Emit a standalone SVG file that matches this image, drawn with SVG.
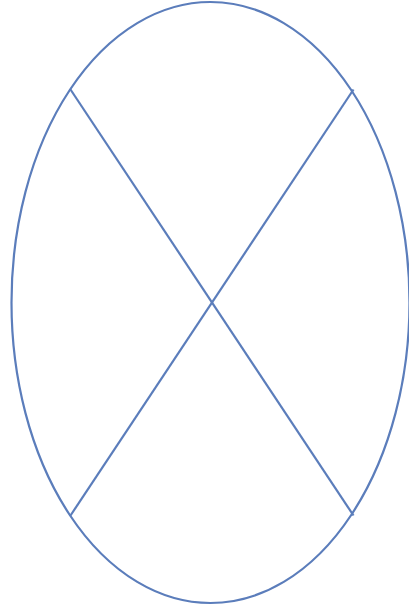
<svg xmlns="http://www.w3.org/2000/svg" width="409" height="612" viewBox="0 0 409 612">
<style>
.s{fill:none;stroke:#5b7dbb;stroke-width:2.2}
</style>
<rect width="409" height="612" fill="#ffffff"/>
<g id="ellipse">
<ellipse class="s" cx="210.5" cy="302.5" rx="199" ry="300.5"/>
</g>
<g id="connectors">
<line class="s" x1="70.5" y1="89.5" x2="353.5" y2="515.5"/>
<line class="s" x1="353.5" y1="89.5" x2="70.5" y2="515.5"/>
</g>
</svg>
